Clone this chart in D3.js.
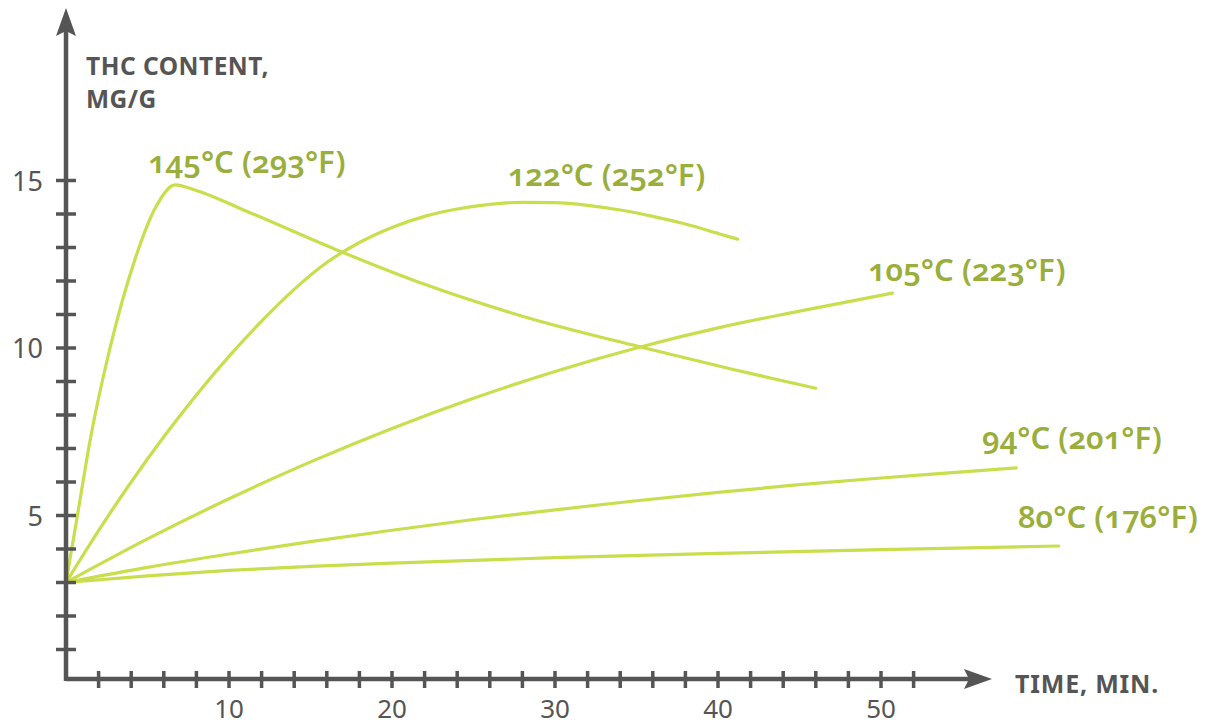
<!DOCTYPE html>
<html>
<head>
<meta charset="utf-8">
<script src="https://cdn.jsdelivr.net/npm/d3@7"></script>
<style>
  body { margin: 0; background: #fff; }
  svg { display: block; font-family: "Noto Sans", "Open Sans", sans-serif; }
  .lbl { font-variant-numeric: oldstyle-nums; font-feature-settings: "onum" 1; }
</style>
</head>
<body>
<svg width="1217" height="727"></svg>
<script>
// series: [minutes, THC mg/g]
const t145 = [[0, 3], [0.7, 5], [1.5, 7.3], [2.7, 10], [4.2, 12.6], [5.5, 14.2], [6.7, 14.87], [8, 14.7], [11, 14.1], [16.5, 12.95], [22, 11.9], [28, 10.95], [35.5, 10.0], [41, 9.35], [46, 8.8]];
const t122 = [[0, 3], [2, 4.55], [4, 6.0], [6, 7.35], [8, 8.6], [10, 9.75], [12, 10.8], [14, 11.75], [16, 12.55], [18, 13.15], [20, 13.6], [22, 13.93], [24, 14.15], [26, 14.29], [28, 14.35], [30, 14.34], [32, 14.26], [34, 14.12], [36, 13.93], [38, 13.7], [40, 13.42], [41.2, 13.25]];
const t105 = [[0, 3], [5, 4.3], [10, 5.5], [15, 6.6], [20, 7.6], [25, 8.5], [30, 9.3], [35, 10.0], [40, 10.6], [45, 11.1], [50.7, 11.64]];
const t94 = [[0, 3], [5, 3.45], [10, 3.85], [15, 4.22], [20, 4.56], [25, 4.88], [30, 5.17], [35, 5.44], [40, 5.69], [45, 5.92], [50, 6.12], [55, 6.3], [58.3, 6.42]];
const t80 = [[0, 3], [5, 3.2], [10, 3.36], [15, 3.48], [20, 3.58], [30, 3.74], [40, 3.87], [50, 3.98], [60.9, 4.09]];

const seriesNames = ['145°C (293°F)', '122°C (252°F)', '105°C (223°F)', '94°C (201°F)', '80°C (176°F)'];
// where each name sits, in chart units
const labelAt = [[5.03, 15.22], [27.1, 14.84], [49.2, 12.0], [56.2, 6.99], [58.4, 4.63]];

const xTicks = d3.range(2, 53, 2);
const xTickLabels = [10, 20, 30, 40, 50];
const yTicks = d3.range(1, 16);
const yTickLabels = [5, 10, 15];

const svg = d3.select('svg');
const axisColor = '#555';
const lineColor = '#c9de4c';
const textColor = '#9aae3c';

const x = d3.scaleLinear().domain([0, 50]).range([66, 881]);
const y = d3.scaleLinear().domain([0, 15]).range([683, 180.5]);
const axisY = 679;

const line = d3.line()
  .x(d => x(d[0]))
  .y(d => y(d[1]))
  .curve(d3.curveMonotoneX);

svg.append('g')
  .selectAll('path')
  .data([t145, t122, t105, t94, t80])
  .enter()
  .append('path')
  .attr('d', line)
  .attr('fill', 'none')
  .attr('stroke', lineColor)
  .attr('stroke-width', 3.2)
  .attr('stroke-linecap', 'round');

// axes
const axes = svg.append('g').attr('stroke', axisColor).attr('stroke-width', 4.5);

axes.append('line')
  .attr('x1', x(0)).attr('x2', 970)
  .attr('y1', axisY).attr('y2', axisY);
axes.append('line')
  .attr('x1', x(0)).attr('x2', x(0))
  .attr('y1', axisY + 2).attr('y2', 30);

axes.selectAll('.xt')
  .data(xTicks)
  .enter()
  .append('line')
  .attr('x1', d => x(d)).attr('x2', d => x(d))
  .attr('y1', axisY - 8).attr('y2', axisY + 9)
  .attr('stroke-width', 3.5);

axes.selectAll('.yt')
  .data(yTicks)
  .enter()
  .append('line')
  .attr('y1', d => y(d)).attr('y2', d => y(d))
  .attr('x1', x(0) - 10).attr('x2', x(0) + 10)
  .attr('stroke-width', 3.5);

// arrowheads
svg.append('path')
  .attr('d', `M${x(0)},8 L${x(0) + 10},36 L${x(0)},31 L${x(0) - 10},36 Z`)
  .attr('fill', axisColor);
svg.append('path')
  .attr('d', `M992,${axisY} L964,${axisY - 10} L969,${axisY} L964,${axisY + 10} Z`)
  .attr('fill', axisColor);

svg.selectAll('.xl')
  .data(xTickLabels)
  .enter()
  .append('text')
  .attr('x', d => x(d))
  .attr('y', 718)
  .attr('text-anchor', 'middle')
  .attr('font-size', 26)
  .attr('fill', axisColor)
  .text(d => d);

svg.selectAll('.yl')
  .data(yTickLabels)
  .enter()
  .append('text')
  .attr('x', 43)
  .attr('y', d => y(d) + 10)
  .attr('text-anchor', 'end')
  .attr('font-size', 27)
  .attr('fill', axisColor)
  .text(d => d);

svg.append('text')
  .attr('x', 86).attr('y', 75)
  .attr('font-size', 24.5).attr('font-weight', 'bold')
  .attr('letter-spacing', 0.5)
  .attr('fill', axisColor)
  .text('THC CONTENT,');
svg.append('text')
  .attr('x', 86).attr('y', 108)
  .attr('font-size', 24.5).attr('font-weight', 'bold')
  .attr('letter-spacing', 0.5)
  .attr('fill', axisColor)
  .text('MG/G');
svg.append('text')
  .attr('x', 1015).attr('y', 693)
  .attr('font-size', 25).attr('font-weight', 'bold')
  .attr('letter-spacing', 0.8)
  .attr('fill', axisColor)
  .text('TIME, MIN.');

svg.selectAll('.lbl')
  .data(seriesNames)
  .enter()
  .append('text')
  .attr('class', 'lbl')
  .attr('x', (d, i) => x(labelAt[i][0]))
  .attr('y', (d, i) => y(labelAt[i][1]))
  .attr('font-size', 31)
  .attr('font-weight', 600)
  .attr('fill', textColor)
  .text(d => d);
</script>
</body>
</html>
